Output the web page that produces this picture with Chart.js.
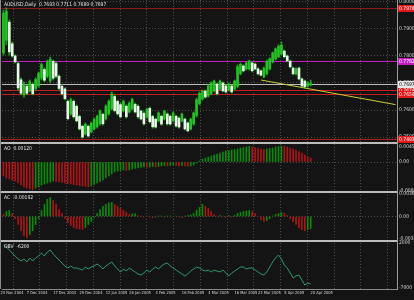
<!DOCTYPE html>
<html><head><meta charset="utf-8">
<script src="https://cdn.jsdelivr.net/npm/chart.js@4"></script>
<style>html,body{margin:0;padding:0;background:#141414;overflow:hidden}</style>
</head><body>
<canvas id="c" width="414" height="300"></canvas>
<script>
const symbolName = 'AUDUSD,Daily';
const dateLabels = ["23 Nov 2004","7 Dec 2004","17 Dec 2004","29 Dec 2004","12 Jan 2005","26 Jan 2005","4 Feb 2005","16 Feb 2005","4 Mar 2005","16 Mar 2005","23 Mar 2005","5 Apr 2005","20 Apr 2005"];
const labelBars = [0,9,18,27,36,44,53,62,71,80,88,97,106];

const openP = [.7812,.7858,.7925,.7845,.7800,.7772,.7712,.7656,.7688,.7672,
.7695,.7680,.7690,.7718,.7750,.7725,.7708,.7780,.7772,.7725,
.7688,.7678,.7632,.7586,.7632,.7614,.7576,.7540,.7511,.7540,
.7519,.7530,.7538,.7549,.7584,.7568,.7586,.7605,.7650,.7632,
.7620,.7597,.7614,.7593,.7605,.7621,.7614,.7596,.7588,.7574,
.7606,.7576,.7566,.7560,.7577,.7567,.7585,.7577,.7560,.7577,
.7570,.7560,.7566,.7552,.7530,.7549,.7580,.7624,.7641,.7670,
.7652,.7660,.7671,.7696,.7678,.7700,.7689,.7674,.7689,.7678,
.7688,.7735,.7763,.7752,.7752,.7774,.7770,.7752,.7745,.7723,
.7735,.7752,.7778,.7789,.7797,.7808,.7818,.7800,.7781,.7755,
.7734,.7755,.7715,.7707,.7688,.7693];
const highP = [.7970,.7978,.7933,.7852,.7804,.7778,.7719,.7704,.7693,.7711,
.7700,.7719,.7741,.7774,.7756,.7785,.7796,.7785,.7778,.7730,
.7693,.7682,.7637,.7644,.7637,.7619,.7581,.7544,.7552,.7544,
.7556,.7570,.7581,.7600,.7589,.7619,.7637,.7667,.7656,.7637,
.7626,.7637,.7619,.7630,.7644,.7626,.7619,.7600,.7593,.7607,
.7611,.7581,.7570,.7593,.7581,.7600,.7589,.7581,.7593,.7581,
.7574,.7589,.7570,.7556,.7570,.7593,.7644,.7667,.7674,.7674,
.7693,.7704,.7711,.7700,.7711,.7704,.7693,.7700,.7693,.7711,
.7767,.7774,.7767,.7778,.7785,.7778,.7774,.7756,.7748,.7759,
.7785,.7793,.7815,.7830,.7841,.7852,.7822,.7804,.7785,.7759,
.7756,.7759,.7719,.7711,.7704,.7711];
const lowP = [.7804,.7841,.7804,.7796,.7774,.7674,.7656,.7648,.7656,.7667,
.7656,.7674,.7685,.7711,.7704,.7719,.7700,.7711,.7719,.7674,
.7656,.7637,.7563,.7581,.7570,.7556,.7526,.7496,.7507,.7500,
.7515,.7526,.7533,.7544,.7544,.7563,.7581,.7600,.7593,.7581,
.7570,.7593,.7570,.7589,.7600,.7589,.7570,.7563,.7544,.7570,
.7552,.7533,.7533,.7556,.7544,.7563,.7544,.7544,.7556,.7537,
.7533,.7556,.7526,.7519,.7526,.7544,.7574,.7619,.7637,.7644,
.7648,.7656,.7667,.7656,.7674,.7667,.7663,.7670,.7663,.7674,
.7682,.7730,.7741,.7748,.7748,.7741,.7748,.7730,.7726,.7719,
.7730,.7748,.7774,.7785,.7793,.7804,.7793,.7778,.7756,.7730,
.7730,.7711,.7685,.7682,.7685,.7689];
const closeP = [.7958,.7965,.7815,.7800,.7778,.7682,.7662,.7696,.7662,.7705,
.7660,.7713,.7735,.7768,.7710,.7778,.7788,.7718,.7725,.7680,
.7660,.7642,.7568,.7638,.7575,.7560,.7530,.7500,.7547,.7504,
.7551,.7565,.7576,.7595,.7549,.7614,.7632,.7660,.7598,.7586,
.7575,.7632,.7575,.7625,.7639,.7593,.7575,.7567,.7549,.7602,
.7557,.7538,.7537,.7589,.7548,.7596,.7549,.7548,.7589,.7541,
.7537,.7585,.7530,.7523,.7566,.7589,.7638,.7662,.7670,.7648,
.7689,.7700,.7707,.7660,.7707,.7671,.7667,.7696,.7667,.7707,
.7760,.7769,.7745,.7774,.7781,.7745,.7752,.7734,.7729,.7755,
.7780,.7789,.7811,.7826,.7836,.7840,.7797,.7782,.7760,.7734,
.7752,.7715,.7689,.7686,.7700,.7697];

const aoValues = [-0.0042,-0.0048,-0.0051,-0.0054,-0.0057,
-0.0063,-0.0069,-0.0075,-0.0078,-0.0081,-0.00825,
-0.0078,-0.0075,-0.0069,-0.0066,-0.0063,-0.006,-0.0057,
-0.00585,-0.006,-0.00615,-0.0063,-0.00645,-0.0066,-0.00675,-0.0069,-0.00705,-0.0072,-0.00735,-0.0075,
-0.0072,-0.00675,-0.0063,-0.00585,-0.0054,-0.0048,-0.0042,-0.0036,-0.003,
-0.0027,-0.00255,-0.0024,-0.00255,-0.0024,-0.0021,-0.00195,
-0.0018,-0.00165,-0.0015,-0.00165,-0.0015,-0.00135,-0.0015,
-0.00135,-0.0012,-0.00105,-0.0012,-0.00105,-0.0009,-0.00105,-0.0012,
-0.00105,-0.0012,-0.00135,-0.0012,
-0.0009,-0.0003,0.0003,0.0009,0.0012,0.0015,0.0018,0.0021,0.0024,0.0027,0.003,0.0033,0.00345,0.0036,0.00375,
0.0039,0.0042,0.00435,0.0045,0.00465,
0.0045,0.00435,0.0042,0.0039,0.00375,
0.0039,0.00405,0.0042,0.0045,0.00465,0.0048,
0.00465,0.0045,0.0042,0.0039,0.0036,0.00315,0.0027,0.0021,0.0015,0.0012];

const acValues = [0.00032,0.0008,0.00096,0.00048,-0.00032,-0.00128,-0.00224,-0.00304,-0.00336,
-0.00288,-0.00224,-0.00128,-0.00032,0.00096,0.00192,0.00272,0.00304,
0.00256,0.00192,0.00112,0.00048,-0.00032,-0.00096,-0.00144,-0.00176,-0.00192,-0.002,-0.00208,
-0.00176,-0.00128,-0.0008,-0.00016,0.00048,0.00112,0.0016,0.00192,0.00216,0.00224,
0.00192,0.0016,0.00128,0.00096,0.00064,0.00032,0.0004,0.00048,
0.00016,0.00008,-0.00008,0.00008,-0.00008,-0.00016,-0.00008,0.00008,0.00008,-0.00008,0.00008,0.00008,-0.00008,0.00008,-0.00008,-0.00016,0.00008,0.00016,0.00024,
0.00048,0.00096,0.00144,0.00192,
0.0016,0.00128,0.0008,0.00032,0.00008,0.00016,0.00008,-0.00016,0.00016,-0.00008,0.00016,
0.00048,0.00064,0.0008,0.00088,0.00096,
0.0008,0.00048,0.00008,-0.00048,-0.0008,
-0.00064,-0.00032,0.00008,0.00032,0.00048,0.00064,
0.00048,0.00016,-0.00032,-0.0008,-0.00128,-0.00176,-0.00208,-0.00224,-0.00208,-0.00192];

const obvValues = [1600,1200,600,0,-600,-1200,-1600,-1200,-1800,-1000,
-1600,-1000,-600,0,-600,200,600,-200,-800,-1400,
-2000,-2600,-3000,-2600,-3000,-3000,-3200,-3400,-2800,-3200,
-2800,-2600,-2200,-2600,-3200,-2600,-2200,-1800,-2600,-3200,
-3800,-3200,-3600,-3000,-3400,-3800,-4200,-4400,-4000,-3400,
-3800,-3200,-2800,-3200,-2600,-2200,-2000,-2600,-3000,-3400,
-3800,-4200,-4600,-4200,-3600,-3200,-2800,-3000,-3400,-3600,
-3400,-3800,-3400,-3600,-3800,-3400,-4000,-4600,-4000,-3600,
-3200,-2800,-2800,-3200,-3000,-3000,-3400,-3800,-4200,-4400,
-3800,-2800,-1800,-1000,-400,-1200,-2400,-3000,-4000,-5000,
-4600,-4400,-5400,-6400,-6000,-6200];

const levelValues = [0.7978, 0.7782, 0.7674, 0.7659, 0.7493];
const trendX = [88, 134];
const trendY = [0.7711, 0.7620];
const priceTicks = [0.7500,0.7550,0.7600,0.7650,0.7700,0.7750,0.7800,0.7850,0.7900,0.7950,0.8000];
const aoTicks = [0.0045, 0, -0.0086];
const acTicks = [0.0036, 0, -0.0035];
const obvTicks = [2000, -7000];

// ---- styles ----
const F = "'Liberation Sans Narrow','DejaVu Sans Condensed','Liberation Sans',sans-serif";
const TXT = '#d8d8d8';
const GRID = '#4c4c4c';
const levelColors = ['#8c1c1c','#c21ec2','#c41e1e','#c41e1e','#b01c1c'];
const UP = '#22c322', DOWN = '#e4fae4', WICK = '#14a814';
const GREEN = '#0a8c0a', RED = '#b01414';
const gridStart = 3.3, gridStep = 9.14;
const gridBars = [];
for (let g = gridStart; g < 134.5; g += gridStep) gridBars.push(Math.round(g * 100) / 100);
const xTickValues = labelBars.concat(gridBars).sort((a,b)=>a-b);

const fixY = s => { s.width = 17; s.paddingTop = 0; s.paddingBottom = 0; };
const xy = arr => arr.map((v,i)=>({x:i, y:v}));
const upDown = arr => ctx => { const i = ctx.dataIndex; return (i > 0 && arr[i] < arr[i-1]) || i === 0 ? RED : GREEN; };

const deco = {
  id: 'deco',
  beforeDraw(c) {
    const x = c.ctx; x.save(); x.fillStyle = '#141414'; x.fillRect(0,0,c.width,c.height); x.restore();
  },
  beforeDatasetsDraw(c) {
    const {ctx, chartArea:a, scales:s} = c;
    ctx.save(); ctx.lineWidth = 1;
    levelValues.forEach((v,k)=>{
      const y = Math.round(s.y.getPixelForValue(v)) + 0.5;
      ctx.strokeStyle = levelColors[k];
      ctx.beginPath(); ctx.moveTo(a.left, y); ctx.lineTo(a.right, y); ctx.stroke();
    });
    const bid = closeP[closeP.length-1];
    const yb = Math.round(s.y.getPixelForValue(bid)) + 0.5;
    ctx.strokeStyle = '#bdbdbd';
    ctx.beginPath(); ctx.moveTo(a.left, yb); ctx.lineTo(a.right, yb); ctx.stroke();
    ctx.restore();
  },
  afterDraw(c) {
    const {ctx, chartArea:a, scales:s} = c;
    ctx.save();
    ctx.strokeStyle = '#bcbcbc'; ctx.lineWidth = 2;
    [s.yAO.top, s.yAC.top, s.yObv.top].forEach(t=>{
      ctx.beginPath(); ctx.moveTo(0, t); ctx.lineTo(a.right, t); ctx.stroke();
    });
    ctx.lineWidth = 1; ctx.strokeStyle = '#8a8a8a';
    ctx.beginPath(); ctx.moveTo(0.5, a.top); ctx.lineTo(0.5, a.bottom); ctx.stroke();
    ctx.font = '5px ' + F; ctx.textBaseline = 'middle'; ctx.textAlign = 'left';
    const box = (v, fill, txt) => {
      const y = s.y.getPixelForValue(v);
      ctx.fillStyle = fill; ctx.fillRect(a.right + 1, Math.round(y) - 3, 16, 7);
      ctx.fillStyle = txt; ctx.fillText(v.toFixed(4), a.right + 2, Math.round(y) + 0.5);
    };
    levelValues.forEach((v,k)=> box(v, k === 1 ? '#c21ec2' : '#e01818', '#ffffff'));
    box(closeP[closeP.length-1], '#e8e8e8', '#000000');
    ctx.fillStyle = '#e6e6e6'; ctx.textBaseline = 'top';
    const n = closeP.length - 1;
    ctx.fillText(symbolName + '  ' + openP[n].toFixed(4) + ' ' + highP[n].toFixed(4) + ' ' + lowP[n].toFixed(4) + ' ' + closeP[n].toFixed(4), 4, 2);
    ctx.fillText('AO  ' + aoValues[aoValues.length-1].toFixed(5), 4, s.yAO.top + 3);
    ctx.fillText('AC  ' + acValues[acValues.length-1].toFixed(5), 4, s.yAC.top + 3);
    ctx.fillText('OBV  ' + obvValues[obvValues.length-1], 4, s.yObv.top + 3);
    ctx.restore();
  }
};

const yCommon = (weight, min, max, ticksArr, fmt, gridFn) => ({
  type: 'linear', position: 'right', stack: 'pane', stackWeight: weight, min, max,
  afterBuildTicks: sc => { sc.ticks = ticksArr.map(v=>({value:v})); },
  afterFit: fixY,
  ticks: { color: TXT, font: {family: F, size: 5}, padding: 2, callback: fmt },
  grid: { color: gridFn, drawTicks: false },
  border: { display: true, color: '#9a9a9a', width: 1, dash: [1,2] }
});

new Chart(document.getElementById('c'), {
  type: 'bar',
  data: {
    datasets: [
      { type:'line', data: [{x:trendX[0], y:trendY[0]},{x:trendX[1], y:trendY[1]}], yAxisID:'y',
        borderColor:'#cccc3a', borderWidth:1, pointRadius:0, order:0 },
      { data: highP.map((h,i)=>({x:i, y:[lowP[i], h]})), yAxisID:'y', barThickness:1, grouped:false,
        backgroundColor: WICK, order: 3 },
      { data: openP.map((o,i)=>({x:i, y:[o, closeP[i]]})), yAxisID:'y', barThickness:2, grouped:false, minBarLength:1,
        backgroundColor: ctx => closeP[ctx.dataIndex] >= openP[ctx.dataIndex] ? UP : DOWN, order: 2 },
      { data: xy(aoValues), yAxisID:'yAO', barThickness:1, grouped:false, backgroundColor: upDown(aoValues), order:2 },
      { data: xy(acValues), yAxisID:'yAC', barThickness:1, grouped:false, backgroundColor: upDown(acValues), order:2 },
      { type:'line', data: xy(obvValues), yAxisID:'yObv', borderColor:'#2b9c6c', borderWidth:1, pointRadius:0, tension:0, order:1 }
    ]
  },
  options: {
    responsive: false, animation: false, devicePixelRatio: 1,
    layout: { padding: { left: 2, top: 0, right: 0, bottom: 0 } },
    plugins: { legend: {display:false}, tooltip: {enabled:false} },
    scales: {
      x: {
        type: 'linear', min: -0.5, max: 134.5, offset: false,
        afterBuildTicks: sc => { sc.ticks = xTickValues.map(v=>({value:v})); },
        afterFit: sc => { sc.height = 11; sc.paddingLeft = 0; sc.paddingRight = 0; },
        ticks: { autoSkip:false, maxRotation:0, minRotation:0, align:'start', labelOffset:-3, padding:2,
          color: TXT, font: {family: F, size: 4},
          callback: v => { const k = labelBars.indexOf(v); return k >= 0 ? dateLabels[k] : ''; } },
        grid: { offset:false, drawTicks:false,
          color: ctx => (ctx.tick && gridBars.indexOf(ctx.tick.value) >= 0) ? GRID : 'rgba(0,0,0,0)' },
        border: { display:true, color:'#8a8a8a', dash:[1,2] }
      },
      y: yCommon(143, 0.7478, 0.8007, priceTicks, v => v.toFixed(4), () => GRID),
      yAO: yCommon(49, -0.0090, 0.0057, aoTicks, v => v === 0 ? '0.00' : v.toFixed(5), ctx => (ctx.tick && ctx.tick.value === 0) ? GRID : 'rgba(0,0,0,0)'),
      yAC: yCommon(49, -0.0039, 0.0039, acTicks, v => v === 0 ? '0.00' : v.toFixed(5), ctx => (ctx.tick && ctx.tick.value === 0) ? GRID : 'rgba(0,0,0,0)'),
      yObv: yCommon(48, -7200, 2400, obvTicks, v => String(v), () => 'rgba(0,0,0,0)')
    }
  },
  plugins: [deco]
});
</script>
</body></html>
